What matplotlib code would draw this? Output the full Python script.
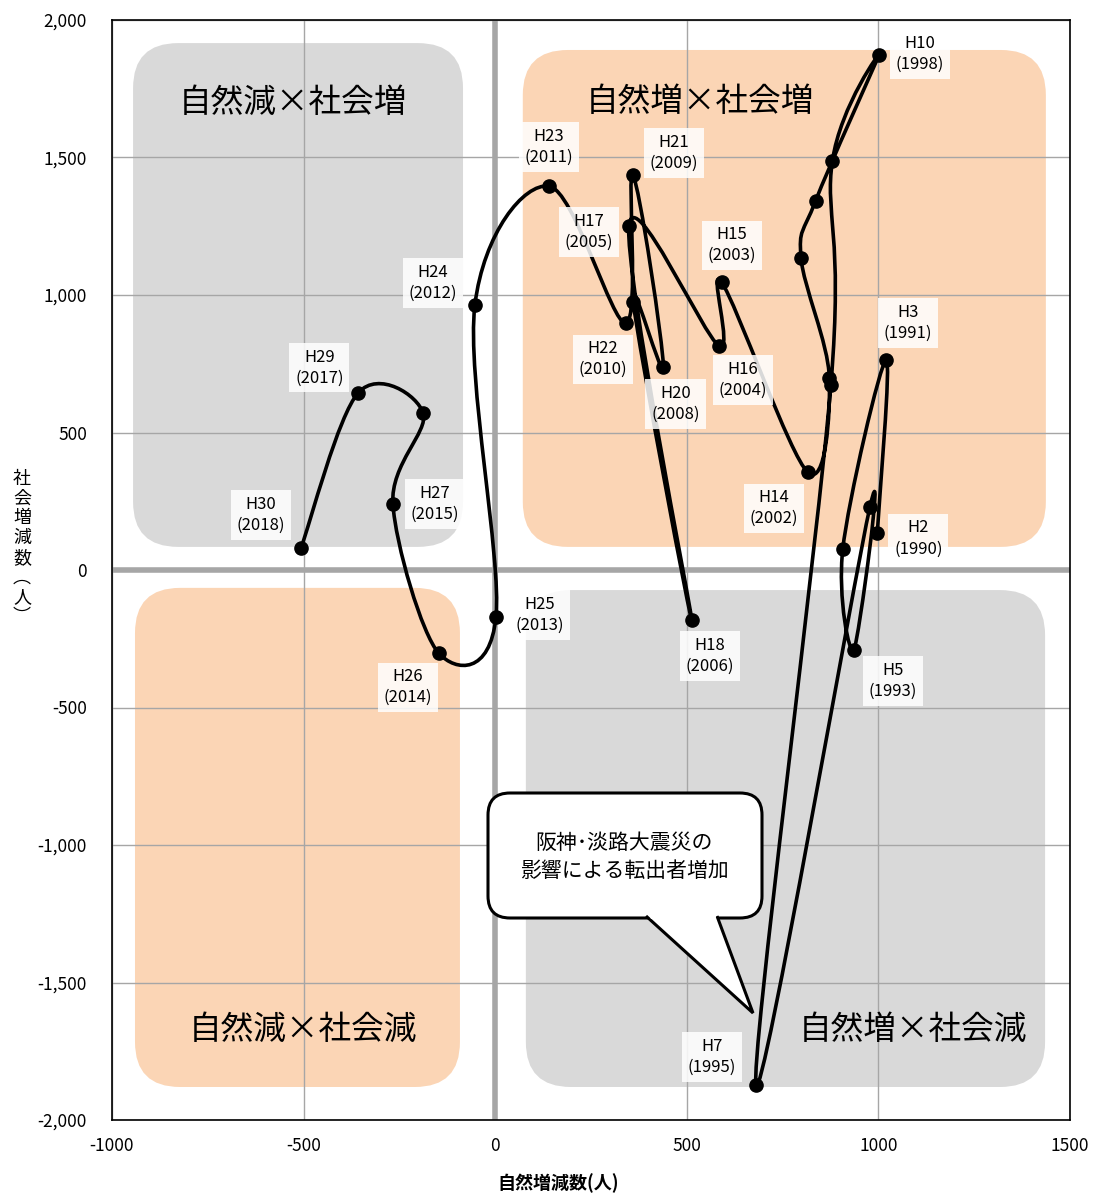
import matplotlib
matplotlib.use("Agg")
import matplotlib.pyplot as plt
import matplotlib.ticker as mticker
from matplotlib.patches import FancyBboxPatch, PathPatch, Polygon
from matplotlib.path import Path
import numpy as np

plt.rcParams["font.family"] = ["Noto Sans CJK JP", "DejaVu Sans"]
plt.rcParams["axes.unicode_minus"] = False

# 平成2年(1990) .. 平成30年(2018)
years = list(range(1990, 2019))
heisei = [f"H{y - 1988}" for y in years]
natural = [997, 1020, 907, 936, 978, 681, 876, 880, 1002, 836, 798, 872, 816,
           591, 584, 349, 513, 360, 439, 359, 341, 140, -53, 2, -147, -267,
           -188, -357, -507]
social = [133, 764, 76, -291, 230, -1873, 673, 1488, 1873, 1342, 1136, 699, 355,
          1046, 815, 1251, -182, 976, 739, 1436, 897, 1396, 964, -171, -303, 240,
          570, 645, 79]

# label offsets in pixels (only labelled years)
label_offsets = {
    "H2": (41, -5), "H3": (22, 37), "H5": (39, -31), "H7": (-44, 28),
    "H10": (41, 1), "H14": (-34, -36), "H15": (10, 37), "H16": (24, -34),
    "H17": (-40, -6), "H18": (18, -36), "H20": (12, -37), "H21": (41, 22),
    "H22": (-23, -36), "H23": (0, 39), "H24": (-42, 22), "H25": (44, 2),
    "H26": (-31, -34), "H27": (42, 0), "H29": (-39, 25), "H30": (-40, 33),
}

quadrants = [
    ("自然減×社会増", (-945, 84, -84, 1916), "#d9d9d9", (-528, 1700)),
    ("自然増×社会増", (72, 84, 1437, 1891), "#fbd5b5", (535, 1700)),
    ("自然減×社会減", (-940, -1880, -92, -65), "#fbd5b5", (-502, -1673)),
    ("自然増×社会減", (80, -1880, 1435, -73), "#d9d9d9", (1090, -1673)),
]

W, H = 1093, 1193
fig = plt.figure(figsize=(W / 100, H / 100), dpi=100)
ax = fig.add_axes([112 / W, 73 / H, 958 / W, 1100 / H])
ax.set_xlim(-1000, 1500)
ax.set_ylim(-2000, 2000)

# quadrant backgrounds
aw, ah = 958.0, 1100.0
for name, (x0, y0, x1, y1), col, (tx, ty) in quadrants:
    fx0, fx1 = (x0 + 1000) / 2500, (x1 + 1000) / 2500
    fy0, fy1 = (y0 + 2000) / 4000, (y1 + 2000) / 4000
    r = 45 / aw
    ry = 45 / ah
    box = FancyBboxPatch((fx0 + r, fy0 + ry), fx1 - fx0 - 2 * r,
                         fy1 - fy0 - 2 * ry,
                         boxstyle=f"round,pad={r},rounding_size={r}",
                         mutation_aspect=aw / ah,
                         transform=ax.transAxes, fc=col, ec="none", zorder=0)
    ax.add_patch(box)
    ax.text(tx, ty, name, fontsize=23.5, ha="center", va="center", zorder=1)

ax.grid(True, color="#a6a6a6", linewidth=1, zorder=0.5)
ax.set_axisbelow(True)
ax.axhline(0, color="#a6a6a6", linewidth=4, zorder=0.6)
ax.axvline(0, color="#a6a6a6", linewidth=4, zorder=0.6)

# smoothed line (Catmull-Rom / Excel style bezier)
pts = np.column_stack([natural, social]).astype(float)
verts = [tuple(pts[0])]
codes = [Path.MOVETO]
n = len(pts)
for i in range(n - 1):
    p0 = pts[i - 1] if i > 0 else pts[i]
    p1 = pts[i]
    p2 = pts[i + 1]
    p3 = pts[i + 2] if i + 2 < n else pts[i + 1]
    c1 = p1 + (p2 - p0) / 6
    c2 = p2 - (p3 - p1) / 6
    verts += [tuple(c1), tuple(c2), tuple(p2)]
    codes += [Path.CURVE4] * 3
ax.add_patch(PathPatch(Path(verts, codes), fc="none", ec="black", lw=2.6,
                       zorder=3, capstyle="round", joinstyle="round"))
ax.plot(natural, social, "o", color="black", markersize=9.5, zorder=4)

for h, y, xv, yv in zip(heisei, years, natural, social):
    if h in label_offsets:
        ax.annotate(f"{h}\n({y})", (xv, yv), xytext=label_offsets[h],
                    textcoords="offset pixels", ha="center", va="center",
                    fontsize=12, linespacing=1.3, zorder=5,
                    bbox=dict(boxstyle="square,pad=0.35", fc="white", ec="none",
                              alpha=0.85))

# callout (pixel coordinates of the image)
pix = matplotlib.transforms.Affine2D().scale(1 / W, -1 / H).translate(0, 1) + fig.transFigure
cb = FancyBboxPatch((488 + 22, 793 + 22), 274 - 44, 125 - 44,
                    boxstyle="round,pad=22,rounding_size=22",
                    transform=pix, fc="white", ec="black", lw=2.2, zorder=6)
fig.patches.append(cb)
tail = Polygon([(646, 916), (753, 1013), (717, 916)], closed=False,
               transform=pix, fc="white", ec="black", lw=2.2, zorder=7,
               joinstyle="miter")
fig.patches.append(tail)
cover = Polygon([(649, 914), (717, 914), (715, 919), (651, 919)], transform=pix,
                fc="white", ec="none", zorder=8)
fig.patches.append(cover)
fig.text(624 / W, 1 - 857 / H, "阪神･淡路大震災の\n影響による転出者増加",
         fontsize=15, ha="center", va="center", linespacing=1.3, zorder=9)

ax.set_xticks([-1000, -500, 0, 500, 1000, 1500])
ax.set_yticks(range(-2000, 2001, 500))
ax.yaxis.set_major_formatter(mticker.FuncFormatter(lambda v, p: f"{int(v):,}"))
ax.tick_params(length=0, labelsize=12.5, pad=12)
ax.tick_params(axis="y", pad=18)
for s in ax.spines.values():
    s.set_color("black")
    s.set_linewidth(1.2)
    s.set_zorder(10)

fig.text(558 / W, 1 - 1183 / H, "自然増減数(人)", fontsize=13, fontweight="bold",
         ha="center", va="center")
fig.text(22 / W, 1 - 548 / H, "\n".join("社会増減数︵人︶"), fontsize=13,
         ha="center", va="center", linespacing=1.12)

fig.savefig("out.png", dpi=100)
plt.close(fig)
